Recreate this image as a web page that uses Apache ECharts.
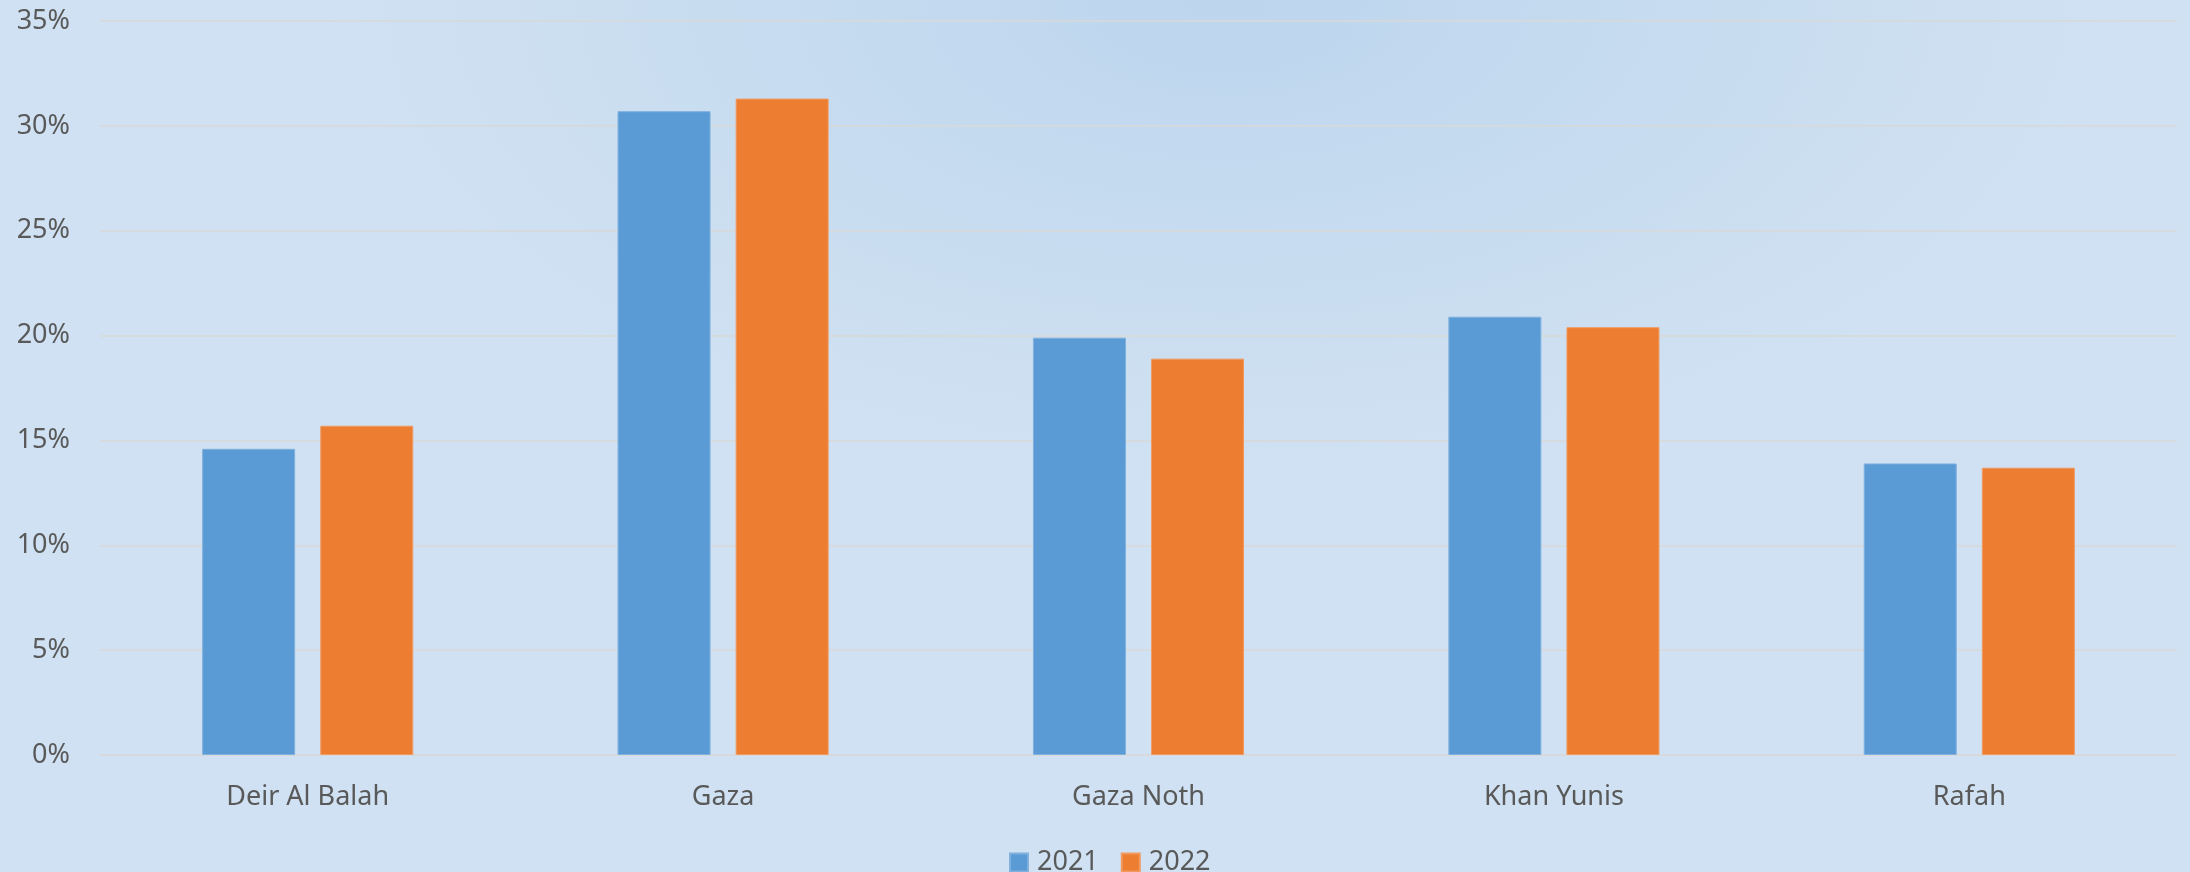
<!DOCTYPE html>
<html>
<head>
<meta charset="utf-8">
<script src="https://cdn.jsdelivr.net/npm/echarts@6/dist/echarts.min.js"></script>
<style>
    html, body { margin: 0; padding: 0; }
    #main {
        width: 2190px; height: 872px;
        background: #CFE1F2;
        background-image: radial-gradient(ellipse 900px 480px at 56% 0%, #BDD6EE 0%, #C4DAEF 40%, #CCDFF1 75%, rgba(207,225,242,0) 100%);
    }
</style>
</head>
<body>
<div id="main"></div>
<script type="text/javascript">
    // 数据
    var categories = ['Deir Al Balah', 'Gaza', 'Gaza Noth', 'Khan Yunis', 'Rafah'];
    var seriesNames = ['2021', '2022'];
    var values2021 = [14.6, 30.7, 19.9, 20.9, 13.9];
    var values2022 = [15.7, 31.3, 18.9, 20.4, 13.7];

    var myChart = echarts.init(document.getElementById('main'));
    var textColor = '#595959';
    var font = 'Noto Sans';

    var option = {
        backgroundColor: 'transparent',
        animation: false,
        grid: { left: 100, right: 13, top: 21, bottom: 117 },
        legend: {
            data: seriesNames,
            left: 1004,
            top: 844,
            itemWidth: 18,
            itemHeight: 18,
            itemGap: 22,
            icon: 'rect',
            textStyle: { color: textColor, fontSize: 27, fontFamily: font, padding: [0, 0, 0, 4] }
        },
        xAxis: {
            type: 'category',
            data: categories,
            axisTick: { show: false },
            axisLine: { lineStyle: { color: '#D9D9D9', width: 1.5 } },
            axisLabel: { color: textColor, fontSize: 27, fontFamily: font, margin: 29 }
        },
        yAxis: {
            type: 'value',
            min: 0,
            max: 35,
            interval: 5,
            axisLine: { show: false },
            axisTick: { show: false },
            splitLine: { lineStyle: { color: '#D9D9D9', width: 1.5 } },
            axisLabel: {
                color: textColor, fontSize: 27, fontFamily: font, margin: 30,
                formatter: '{value}%'
            }
        },
        series: [
            {
                name: seriesNames[0],
                type: 'bar',
                data: values2021,
                barWidth: 93,
                barGap: '27%',
                itemStyle: { color: '#5B9BD5', borderColor: '#7FB0DE', borderWidth: 1 }
            },
            {
                name: seriesNames[1],
                type: 'bar',
                data: values2022,
                barWidth: 93,
                barGap: '27%',
                itemStyle: { color: '#ED7D31', borderColor: '#F09A60', borderWidth: 1 }
            }
        ]
    };

    myChart.setOption(option);
</script>
</body>
</html>
